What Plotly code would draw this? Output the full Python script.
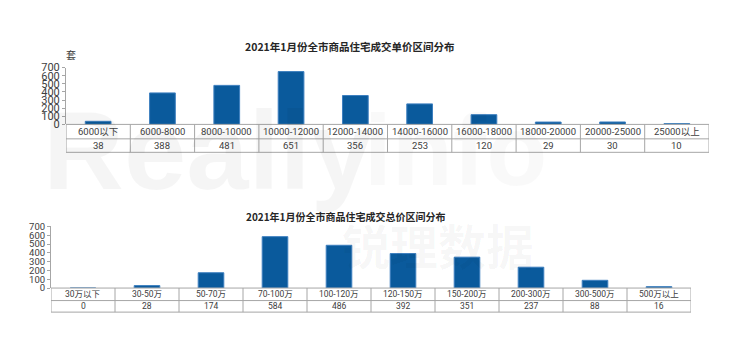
import plotly.graph_objects as go

# ---------------- data ----------------
title1 = "2021年1月份全市商品住宅成交单价区间分布"
cats1 = ["6000以下", "6000-8000", "8000-10000", "10000-12000", "12000-14000",
         "14000-16000", "16000-18000", "18000-20000", "20000-25000", "25000以上"]
vals1 = [38, 388, 481, 651, 356, 253, 120, 29, 30, 10]

title2 = "2021年1月份全市商品住宅成交总价区间分布"
cats2 = ["30万以下", "30-50万", "50-70万", "70-100万", "100-120万",
         "120-150万", "150-200万", "200-300万", "300-500万", "500万以上"]
vals2 = [0, 28, 174, 584, 486, 392, 351, 237, 88, 16]

series_name = "套数"
unit_label = "套"
yticks = [0, 100, 200, 300, 400, 500, 600, 700]

# ---------------- style ----------------
W, H = 740, 348
BAR = "#0a5a9c"
BAR_EDGE = "#3d7fbf"
GRID = "#a6a6a6"
TXT = "#404040"
FONT = "Roboto, Noto Sans CJK SC, sans-serif"


def px(x):
    return x / W


def py(y):
    return 1 - y / H


def ann(fig, **kw):
    kw.setdefault("showarrow", False)
    kw.setdefault("xanchor", "center")
    kw.setdefault("yanchor", "middle")
    fig.add_annotation(**kw)


fig = go.Figure()

# watermark (very faint)
ann(fig, text="<b>Really</b>", x=px(208), y=py(150), xref="paper", yref="paper",
    font=dict(family="Liberation Sans", size=112, color="rgba(0,0,0,0.04)"))
ann(fig, text="<b>info</b>", x=px(455), y=py(150), xref="paper", yref="paper",
    font=dict(family="Liberation Sans", size=100, color="rgba(0,0,0,0.025)"))
ann(fig, text="<b>锐理数据</b>", x=px(438), y=py(247), xref="paper", yref="paper",
    font=dict(family="Noto Sans CJK SC", size=48, color="rgba(0,0,0,0.035)"))

charts = [
    dict(cats=cats1, vals=vals1, title=title1, xa="x", ya="y", left=66, right=709,
         ytop=64, ybot=123, row1=138, row2=152, legleft=37, title_y=42, title_x=349, tick=11,
         catfont=9.5, valfont=9.5, titlefont=10.5),
    dict(cats=cats2, vals=vals2, title=title2, xa="x2", ya="y2", left=51, right=691,
         ytop=229, ybot=293, row1=306, row2=318, legleft=26, title_y=219, title_x=346, tick=9.5,
         catfont=8.5, valfont=8.5, titlefont=10),
]

for k, c in enumerate(charts):
    sfx = "" if k == 0 else "2"
    n = len(c["cats"])
    fig.add_trace(go.Bar(x=c["cats"], y=c["vals"], xaxis=c["xa"], yaxis=c["ya"],
                         width=0.4, name=series_name, showlegend=False,
                         marker=dict(color=BAR, line=dict(color=BAR_EDGE, width=1))))
    fig.layout["xaxis" + sfx] = dict(domain=[px(c["left"]), px(c["right"])],
                                     anchor=c["ya"], range=[-0.5, n - 0.5],
                                     showticklabels=False, showline=False, showgrid=False,
                                     zeroline=False, fixedrange=True)
    fig.layout["yaxis" + sfx] = dict(domain=[py(c["ybot"]), py(c["ytop"])],
                                     anchor=c["xa"], range=[0, yticks[-1]],
                                     tickvals=yticks, ticks="outside", ticklen=3,
                                     tickcolor=GRID, showline=True, linecolor=GRID,
                                     linewidth=1, showgrid=False, zeroline=False,
                                     tickfont=dict(size=c["tick"], color=TXT),
                                     fixedrange=True)
    # title
    ann(fig, text="<b>" + c["title"] + "</b>", x=px(c["title_x"]), y=py(c["title_y"]),
        xref="paper", yref="paper",
        font=dict(family="Noto Sans CJK SC", size=c["titlefont"], color="#262626"))
    # table geometry in x-axis units
    unit_px = (c["right"] - c["left"]) / n
    leg_x = -0.5 - (c["left"] - c["legleft"]) / unit_px
    ytop_p, yr1, yr2 = py(c["ybot"]), py(c["row1"]), py(c["row2"])
    line = dict(color=GRID, width=1)
    fig.add_shape(type="line", xref=c["xa"], yref="paper", x0=-0.5, x1=n - 0.5,
                  y0=ytop_p, y1=ytop_p, line=line)
    for yy in (yr1, yr2):
        fig.add_shape(type="line", xref=c["xa"], yref="paper", x0=leg_x, x1=n - 0.5,
                      y0=yy, y1=yy, line=line)
    for i in range(n + 1):
        fig.add_shape(type="line", xref=c["xa"], yref="paper", x0=i - 0.5, x1=i - 0.5,
                      y0=ytop_p, y1=yr2, line=line)
    fig.add_shape(type="line", xref=c["xa"], yref="paper", x0=leg_x, x1=leg_x,
                  y0=yr1, y1=yr2, line=line)
    # cell texts
    for cat, v in zip(c["cats"], c["vals"]):
        ann(fig, text=cat, x=cat, y=(ytop_p + yr1) / 2, xref=c["xa"], yref="paper",
            font=dict(size=c["catfont"], color=TXT))
        ann(fig, text=str(v), x=cat, y=(yr1 + yr2) / 2, xref=c["xa"], yref="paper",
            font=dict(size=c["valfont"], color=TXT))
    # legend cell
    sq = 4 / unit_px
    mx = leg_x + 3 / unit_px
    ymid = (yr1 + yr2) / 2
    fig.add_shape(type="rect", xref=c["xa"], yref="paper", x0=mx, x1=mx + sq,
                  y0=ymid - 2.5 / H, y1=ymid + 2.5 / H, line=dict(width=0),
                  fillcolor=BAR)
    ann(fig, text=series_name, x=mx + sq + 1 / unit_px, y=ymid, xref=c["xa"],
        yref="paper", xanchor="left",
        font=dict(family="Noto Sans CJK SC", size=c["valfont"], color=TXT))

# y unit label for chart 1
ann(fig, text=unit_label, x=px(71), y=py(50), xref="paper", yref="paper",
    font=dict(family="Noto Sans CJK SC", size=10, color=TXT))

fig.update_layout(width=W, height=H, margin=dict(l=0, r=0, t=0, b=0),
                  paper_bgcolor="white", plot_bgcolor="rgba(0,0,0,0)",
                  font=dict(family=FONT, color=TXT), bargap=0.6)

fig.write_html("out.html", config={"displayModeBar": False})
